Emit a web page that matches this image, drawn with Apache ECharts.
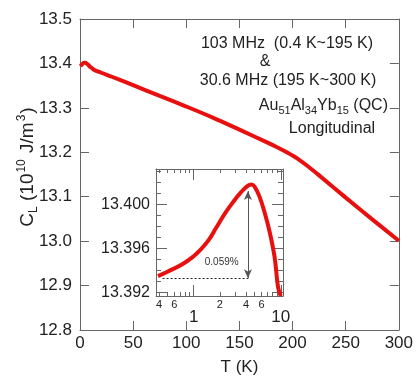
<!DOCTYPE html>
<html>
<head>
<meta charset="utf-8">
<script src="https://cdn.jsdelivr.net/npm/echarts@6/dist/echarts.min.js"></script>
<style>
  html, body { margin: 0; padding: 0; background: #fff; }
  #chart { width: 416px; height: 381px; }
</style>
</head>
<body>
<div id="chart"></div>
<script>
const FONT = '"Liberation Sans", Arial, Helvetica, sans-serif';
const AXIS_COLOR = '#666';
const TEXT_COLOR = '#222';
const CURVE_COLOR = '#e8100f';

// Low-temperature sweep (K), shown in the main panel and in the log-T inset
const lowT = [0.39, 0.5, 0.75, 1, 1.17, 1.5, 1.82, 2.3, 2.83, 3.5, 4.2, 4.6, 5, 5.7, 6.5, 7.5, 8.5, 9.3, 10];
const lowC = [13.3935, 13.3939, 13.3946, 13.3953, 13.3958, 13.3968, 13.3979, 13.3992, 13.4002, 13.4011,
              13.4017, 13.4018, 13.4016, 13.4007, 13.3993, 13.3974, 13.3952, 13.3925, 13.3917];
// Higher-temperature part of the elastic constant curve
const highT = [13, 20, 30, 50, 75, 100, 125, 150, 175, 185, 195, 205, 215, 225, 250, 275, 300];
const highC = [13.386, 13.379, 13.370, 13.351, 13.327, 13.303, 13.278, 13.251, 13.2235, 13.2120,
               13.1995, 13.1852, 13.1675, 13.1480, 13.098, 13.049, 13.001];

// Main axes ticks
const mainXTicks = [0, 50, 100, 150, 200, 250, 300];
const mainYTicks = [12.8, 12.9, 13.0, 13.1, 13.2, 13.3, 13.4, 13.5];

// Inset axes ticks (log T)
const insetMinorT = [0.4, 0.5, 0.6, 0.7, 0.8, 0.9, 2, 3, 4, 5, 6, 7, 8, 9];
const insetMinorTLabels = [0.4, 0.6, 2, 4, 6];
const insetMajorT = [1, 10];
const insetMajorC = [13.392, 13.396, 13.400];
const insetMinorC = [13.392, 13.393, 13.394, 13.395, 13.396, 13.397, 13.398, 13.399, 13.400, 13.401, 13.402, 13.403];

// Softening amplitude marker
const dipPercent = 0.059;
const dipBase = 13.3933;
const dipFromT = 0.44;
const dipAtT = 4.2;
const dipLabelAt = [2.1, 13.3948];
const dipTop = dipBase * (1 + dipPercent / 100);

const mainData = lowT.map((t, i) => [t, lowC[i]]).concat(highT.map((t, i) => [t, highC[i]]));
const insetData = lowT.map((t, i) => [t, lowC[i]]);

const leadDigit = v => String(Math.round(v / Math.pow(10, Math.floor(Math.log10(v) + 1e-9))));

const lineStyle = { color: AXIS_COLOR, width: 1 };

function mainX(position, labels) {
  return {
    type: 'value', gridIndex: 0, position, min: mainXTicks[0], max: mainXTicks[mainXTicks.length - 1], interval: 50,
    axisLine: { show: true, onZero: false, lineStyle },
    axisTick: { show: true, inside: true, length: 9, lineStyle },
    axisLabel: { show: labels, color: TEXT_COLOR, fontFamily: FONT, fontSize: 17, margin: 5 },
    splitLine: { show: false },
    name: labels ? 'T (K)' : '', nameLocation: 'middle', nameGap: 29,
    nameTextStyle: { color: TEXT_COLOR, fontFamily: FONT, fontSize: 17 }
  };
}
function mainY(position, labels) {
  return {
    type: 'value', gridIndex: 0, position, min: mainYTicks[0], max: mainYTicks[mainYTicks.length - 1], interval: 0.1,
    axisLine: { show: true, onZero: false, lineStyle },
    axisTick: { show: true, inside: true, length: 9, lineStyle },
    axisLabel: { show: labels, color: TEXT_COLOR, fontFamily: FONT, fontSize: 17, margin: 8,
                 formatter: v => v.toFixed(1) },
    splitLine: { show: false }
  };
}
function insetX(position, major, labels) {
  return {
    type: 'log', logBase: 10, gridIndex: 1, position, min: 0.37, max: 10.6,
    axisLine: { show: !major, onZero: false, lineStyle },
    axisTick: { show: true, inside: true, length: major ? 11 : 4, lineStyle,
                customValues: major ? insetMajorT : insetMinorT },
    axisLabel: labels ? {
      show: true, color: TEXT_COLOR, fontFamily: FONT,
      fontSize: major ? 17 : 11, margin: major ? 13 : 3,
      customValues: major ? insetMajorT : insetMinorTLabels,
      formatter: v => major ? String(v) : leadDigit(v)
    } : { show: false },
    splitLine: { show: false }, minorTick: { show: false }
  };
}
function insetY(position, major, labels) {
  return {
    type: 'value', gridIndex: 1, position, min: 13.3917, max: 13.4032,
    axisLine: { show: !major, onZero: false, lineStyle },
    axisTick: { show: true, inside: true, length: major ? 11 : 5, lineStyle,
                customValues: major ? insetMajorC : insetMinorC },
    axisLabel: labels ? {
      show: true, color: TEXT_COLOR, fontFamily: FONT, fontSize: 16, margin: 6,
      customValues: insetMajorC, formatter: v => v.toFixed(3)
    } : { show: false },
    splitLine: { show: false }
  };
}

const option = {
  animation: false,
  backgroundColor: '#fff',
  grid: [
    { left: 80, right: 14, top: 19, bottom: 39 },
    { left: 156, right: 133, top: 169, bottom: 85, show: true, backgroundColor: '#fff', borderWidth: 0 }
  ],
  xAxis: [
    mainX('bottom', true), mainX('top', false),
    insetX('bottom', false, true), insetX('bottom', true, true),
    insetX('top', false, false), insetX('top', true, false)
  ],
  yAxis: [
    mainY('left', true), mainY('right', false),
    insetY('left', false, false), insetY('left', true, true),
    insetY('right', false, false), insetY('right', true, false)
  ],
  series: [
    {
      type: 'line', xAxisIndex: 0, yAxisIndex: 0, data: mainData,
      showSymbol: false, smooth: 0.3, lineStyle: { color: CURVE_COLOR, width: 4 }, z: 3
    },
    {
      type: 'line', xAxisIndex: 2, yAxisIndex: 3, data: insetData,
      showSymbol: false, smooth: 0.4, lineStyle: { color: CURVE_COLOR, width: 4 }, z: 5,
      markLine: {
        silent: true, symbol: ['arrow', 'arrow'], symbolSize: [6, 9],
        label: { show: false },
        lineStyle: { color: '#555', width: 1, type: 'solid' },
        data: [
          [{ coord: [dipFromT, dipBase], symbol: 'none', lineStyle: { type: [2, 2], color: '#222' } },
           { coord: [dipAtT, dipBase], symbol: 'none' }],
          [{ coord: [dipAtT, dipBase] }, { coord: [dipAtT, dipTop] }]
        ]
      },
      markPoint: {
        silent: true, symbol: 'circle', symbolSize: 0,
        label: { show: true, position: 'inside', formatter: dipPercent.toFixed(3) + '%',
                 color: '#333', fontFamily: FONT, fontSize: 10 },
        data: [{ coord: dipLabelAt }]
      }
    }
  ],
  graphic: [
    { type: 'text', x: 287, y: 44, style: { text: '103 MHz  (0.4 K~195 K)', font: '16px ' + FONT, fill: TEXT_COLOR, textAlign: 'center', textVerticalAlign: 'middle' } },
    { type: 'text', x: 265, y: 62, style: { text: '&', font: '16px ' + FONT, fill: TEXT_COLOR, textAlign: 'center', textVerticalAlign: 'middle' } },
    { type: 'text', x: 288, y: 81, style: { text: '30.6 MHz (195 K~300 K)', font: '16px ' + FONT, fill: TEXT_COLOR, textAlign: 'center', textVerticalAlign: 'middle' } },
    { type: 'text', x: 388, y: 106, style: {
        text: 'Au{s|51}Al{s|34}Yb{s|15} (QC)', font: '16px ' + FONT, fill: TEXT_COLOR,
        textAlign: 'right', textVerticalAlign: 'middle',
        rich: { s: { fontSize: 11, fontFamily: FONT, fill: TEXT_COLOR, padding: [9, 0, 0, 0] } } } },
    { type: 'text', x: 332, y: 129, style: { text: 'Longitudinal', font: '16px ' + FONT, fill: TEXT_COLOR, textAlign: 'center', textVerticalAlign: 'middle' } },
    { type: 'text', x: 28, y: 167, rotation: Math.PI / 2, style: {
        text: 'C{sub|L} (10{sup|10} J/m{sup|3})', font: '19px ' + FONT, fill: TEXT_COLOR,
        textAlign: 'center', textVerticalAlign: 'middle',
        rich: {
          sub: { fontSize: 12, fontFamily: FONT, fill: TEXT_COLOR, padding: [11, 0, 0, 0] },
          sup: { fontSize: 12, fontFamily: FONT, fill: TEXT_COLOR, padding: [0, 1, 12, 1] }
        } } }
  ]
};

const chart = echarts.init(document.getElementById('chart'), null, { renderer: 'canvas' });
chart.setOption(option);
</script>
</body>
</html>
